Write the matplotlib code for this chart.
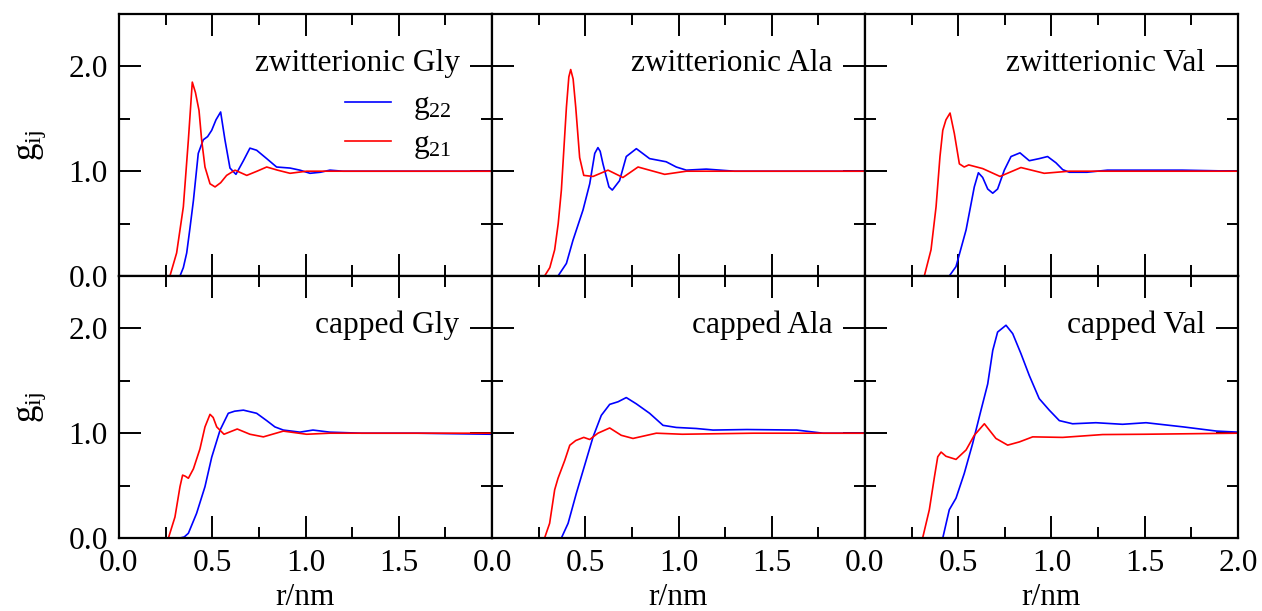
import numpy as np
import matplotlib
matplotlib.use("Agg")
import matplotlib.pyplot as plt
from matplotlib.ticker import MultipleLocator

plt.rcParams['font.family'] = ['Liberation Serif', 'DejaVu Serif']
plt.rcParams['mathtext.fontset'] = 'custom'
plt.rcParams['mathtext.rm'] = 'Liberation Serif'

# zwitterionic Gly
r_zg21 = [0, 0.273, 0.309, 0.345, 0.372, 0.393, 0.41, 0.429, 0.443, 0.461, 0.488, 0.515, 0.545, 0.577, 0.622, 0.685, 0.74, 0.792, 0.85, 0.917, 1.006, 1.2, 1.6, 2.0]
g_zg21 = [0, 0, 0.22, 0.66, 1.30, 1.85, 1.75, 1.58, 1.30, 1.04, 0.88, 0.85, 0.89, 0.96, 1.01, 0.96, 1.0, 1.04, 1.01, 0.98, 1.0, 1.0, 1.0, 1.0]
r_zg22 = [0, 0.327, 0.345, 0.363, 0.38, 0.399, 0.425, 0.452, 0.475, 0.497, 0.52, 0.545, 0.568, 0.595, 0.627, 0.667, 0.702, 0.738, 0.792, 0.845, 0.917, 0.97, 1.024, 1.08, 1.131, 1.2, 1.4, 1.6, 1.8, 2.0]
g_zg22 = [0, 0, 0.08, 0.22, 0.45, 0.72, 1.17, 1.30, 1.33, 1.39, 1.49, 1.565, 1.30, 1.03, 0.97, 1.10, 1.22, 1.20, 1.12, 1.04, 1.03, 1.01, 0.98, 0.99, 1.01, 1.0, 1.0, 1.0, 1.0, 1.0]

# zwitterionic Ala
r_za21 = [0, 0.282, 0.31, 0.336, 0.355, 0.372, 0.385, 0.399, 0.412, 0.422, 0.435, 0.449, 0.47, 0.492, 0.542, 0.622, 0.702, 0.783, 0.926, 1.042, 1.3, 2.0]
g_za21 = [0, 0, 0.08, 0.25, 0.5, 0.82, 1.2, 1.61, 1.9, 1.97, 1.88, 1.61, 1.13, 0.96, 0.95, 1.01, 0.94, 1.04, 0.97, 1.0, 1.0, 1.0]
r_za22 = [0, 0.354, 0.399, 0.434, 0.488, 0.524, 0.551, 0.568, 0.58, 0.595, 0.627, 0.645, 0.684, 0.72, 0.774, 0.845, 0.934, 0.988, 1.042, 1.149, 1.3, 1.6, 2.0]
g_za22 = [0, 0, 0.12, 0.34, 0.63, 0.88, 1.17, 1.225, 1.19, 1.07, 0.85, 0.82, 0.91, 1.14, 1.215, 1.12, 1.09, 1.04, 1.01, 1.02, 1.0, 1.0, 1.0]

# zwitterionic Val
r_zv21 = [0, 0.318, 0.354, 0.381, 0.402, 0.417, 0.434, 0.456, 0.479, 0.506, 0.532, 0.556, 0.631, 0.724, 0.836, 0.961, 1.095, 1.4, 2.0]
g_zv21 = [0, 0, 0.25, 0.66, 1.14, 1.39, 1.49, 1.555, 1.36, 1.07, 1.04, 1.06, 1.025, 0.95, 1.035, 0.98, 1.0, 1.0, 1.0]
r_zv22 = [0, 0.452, 0.488, 0.542, 0.586, 0.608, 0.631, 0.658, 0.685, 0.711, 0.747, 0.783, 0.831, 0.881, 0.934, 0.979, 1.024, 1.06, 1.095, 1.19, 1.3, 1.5, 1.7, 2.0]
g_zv22 = [0, 0, 0.09, 0.44, 0.85, 0.985, 0.94, 0.83, 0.79, 0.83, 1.01, 1.14, 1.175, 1.10, 1.12, 1.14, 1.08, 1.015, 0.99, 0.99, 1.01, 1.01, 1.01, 1.0]

# capped Gly
r_cg21 = [0, 0.265, 0.3, 0.327, 0.341, 0.355, 0.372, 0.399, 0.434, 0.461, 0.488, 0.505, 0.524, 0.563, 0.634, 0.702, 0.774, 0.881, 1.006, 1.13, 1.4, 2.0]
g_cg21 = [0, 0, 0.20, 0.49, 0.60, 0.59, 0.57, 0.66, 0.85, 1.06, 1.18, 1.15, 1.06, 0.99, 1.04, 0.99, 0.965, 1.02, 0.99, 1.0, 1.0, 1.0]
r_cg22 = [0, 0.327, 0.35, 0.372, 0.416, 0.461, 0.497, 0.542, 0.586, 0.62, 0.667, 0.738, 0.792, 0.836, 0.881, 0.97, 1.04, 1.13, 1.3, 1.6, 2.0]
g_cg22 = [0, 0, 0.01, 0.045, 0.235, 0.49, 0.77, 1.03, 1.19, 1.21, 1.22, 1.19, 1.12, 1.06, 1.03, 1.01, 1.03, 1.01, 1.0, 1.0, 0.99]

# capped Ala
r_ca21 = [0, 0.282, 0.309, 0.336, 0.354, 0.39, 0.417, 0.449, 0.492, 0.524, 0.568, 0.631, 0.693, 0.756, 0.881, 1.02, 1.4, 2.0]
g_ca21 = [0, 0, 0.14, 0.46, 0.57, 0.74, 0.885, 0.93, 0.96, 0.94, 1.0, 1.05, 0.98, 0.95, 1.0, 0.99, 1.0, 1.0]
r_ca22 = [0, 0.372, 0.408, 0.452, 0.497, 0.542, 0.586, 0.631, 0.676, 0.72, 0.774, 0.845, 0.917, 0.988, 1.095, 1.185, 1.366, 1.634, 1.775, 2.0]
g_ca22 = [0, 0, 0.14, 0.425, 0.695, 0.965, 1.17, 1.275, 1.30, 1.34, 1.28, 1.19, 1.075, 1.055, 1.045, 1.03, 1.035, 1.03, 1.0, 1.0]

# capped Val
r_cv21 = [0, 0.309, 0.345, 0.372, 0.39, 0.408, 0.434, 0.488, 0.542, 0.586, 0.64, 0.702, 0.765, 0.828, 0.899, 1.06, 1.274, 1.5, 2.0]
g_cv21 = [0, 0, 0.27, 0.58, 0.775, 0.82, 0.78, 0.75, 0.84, 0.98, 1.09, 0.95, 0.886, 0.917, 0.965, 0.96, 0.987, 0.99, 1.0]
r_cv22 = [0, 0.417, 0.452, 0.488, 0.532, 0.577, 0.622, 0.658, 0.685, 0.711, 0.756, 0.792, 0.836, 0.881, 0.934, 0.988, 1.042, 1.113, 1.238, 1.381, 1.507, 1.707, 1.886, 2.0]
g_cv22 = [0, 0, 0.27, 0.38, 0.615, 0.90, 1.22, 1.47, 1.79, 1.965, 2.03, 1.95, 1.76, 1.55, 1.33, 1.22, 1.12, 1.09, 1.10, 1.085, 1.10, 1.06, 1.02, 1.01]

titles = ["zwitterionic Gly", "zwitterionic Ala", "zwitterionic Val",
          "capped Gly", "capped Ala", "capped Val"]
series = [(r_zg22, g_zg22, r_zg21, g_zg21),
          (r_za22, g_za22, r_za21, g_za21),
          (r_zv22, g_zv22, r_zv21, g_zv21),
          (r_cg22, g_cg22, r_cg21, g_cg21),
          (r_ca22, g_ca22, r_ca21, g_ca21),
          (r_cv22, g_cv22, r_cv21, g_cv21)]

W, H = 1262.0, 611.0
fig = plt.figure(figsize=(12.62, 6.11), dpi=100)

lefts = [119, 492, 865]
tops = [14, 276]
pw, ph = 373, 262
fs = 22.6

for i in range(6):
    row = i // 3
    col = i % 3
    ax = fig.add_axes([lefts[col] / W, 1 - (tops[row] + ph) / H, pw / W, ph / H])
    r22, g22, r21, g21 = series[i]
    l22, = ax.plot(r22, g22, color='#0000ff', lw=1.2, label=r'$\mathregular{g_{22}}$')
    l21, = ax.plot(r21, g21, color='#ff0000', lw=1.2, label=r'$\mathregular{g_{21}}$')
    ax.set_xlim(0, 2.0)
    ax.set_ylim(0, 2.5)
    ax.xaxis.set_major_locator(MultipleLocator(0.5))
    ax.xaxis.set_minor_locator(MultipleLocator(0.25))
    ax.yaxis.set_major_locator(MultipleLocator(1.0))
    ax.yaxis.set_minor_locator(MultipleLocator(0.5))
    ax.tick_params(which='both', direction='in', top=True, right=True, width=1.4, labelsize=fs)
    ax.tick_params(which='major', length=16)
    ax.tick_params(which='minor', length=8)
    ax.tick_params(axis='x', pad=8)
    ax.tick_params(axis='y', pad=8)
    for s in ax.spines.values():
        s.set_linewidth(1.6)

    if row == 1:
        if col < 2:
            ax.set_xticks([0, 0.5, 1.0, 1.5, 2.0], ['0.0', '0.5', '1.0', '1.5', ''])
        else:
            ax.set_xticks([0, 0.5, 1.0, 1.5, 2.0], ['0.0', '0.5', '1.0', '1.5', '2.0'])
        ax.set_xlabel('r/nm', fontsize=fs, va='top')
        ax.xaxis.set_label_coords(0.5, -0.172)
    else:
        ax.tick_params(axis='x', labelbottom=False)

    if col == 0:
        ax.set_yticks([0, 1.0, 2.0], ['0.0', '1.0', '2.0'])
        ax.set_ylabel(r'$\mathregular{g_{ij}}$', fontsize=25)
        ax.yaxis.set_label_coords(-0.19, 0.5)
    else:
        ax.tick_params(axis='y', labelleft=False)

    ax.text(0.913, 0.783, titles[i], transform=ax.transAxes, ha='right', va='baseline', fontsize=fs)

    if i == 0:
        ax.legend(handles=[l22, l21], loc='upper left', bbox_to_anchor=(0.606, 0.706),
                  frameon=False, fontsize=fs, handlelength=1.45, handletextpad=0.72,
                  borderpad=0, borderaxespad=0, labelspacing=0.25)

plt.savefig("out.png", dpi=100)
